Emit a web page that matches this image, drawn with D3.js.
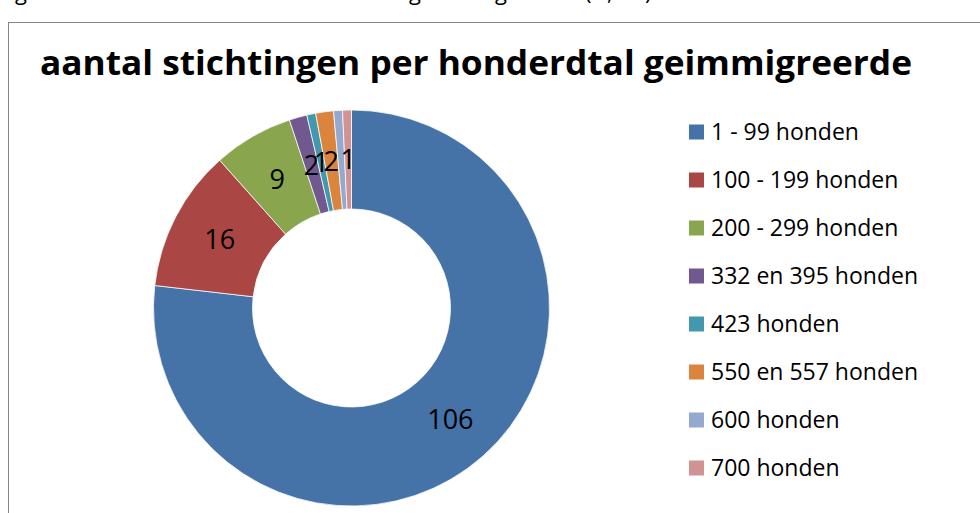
<!DOCTYPE html>
<html>
<head>
<meta charset="utf-8">
<script src="https://cdn.jsdelivr.net/npm/d3@7/dist/d3.min.js"></script>
<style>
  body { margin: 0; background: #fff; }
  svg { display: block; font-family: "Open Sans", "Noto Sans", sans-serif; }
</style>
</head>
<body>
<div class="display"></div>
<script>
var categories = ["1 - 99 honden", "100 - 199 honden", "200 - 299 honden", "332 en 395 honden",
                  "423 honden", "550 en 557 honden", "600 honden", "700 honden"];
var counts = [106, 16, 9, 2, 1, 2, 1, 1];
var labelShown = [true, true, true, true, true, true, false, true];
var colors = ["#4572a7", "#aa4643", "#89a54e", "#71588f", "#4198af", "#db843d", "#93a9cf", "#d19392"];
var titleText = "aantal stichtingen per honderdtal geimmigreerde";
// tails of the caption line above the chart, cut off by the screenshot
var cutGlyphs = ["g", "g", "g", "(", ",", ")"];
var cutGlyphX = [15, 409, 495, 585, 607, 645];

var width = 980, height = 513;
var cx = 351.5, cy = 308, outerR = 198, innerR = 99;

var svg = d3.select(".display")
  .append("svg")
  .attr("width", width)
  .attr("height", height);

svg.selectAll("text.cut")
  .data(cutGlyphs)
  .enter().append("text")
  .attr("class", "cut")
  .attr("x", function(d, i) { return cutGlyphX[i]; })
  .attr("y", 0)
  .attr("font-size", 22)
  .attr("fill", "#000")
  .text(function(d) { return d; });

// chart border (right and bottom fall outside the picture)
svg.append("rect")
  .attr("x", 8.5)
  .attr("y", 22.5)
  .attr("width", 1000)
  .attr("height", 600)
  .attr("fill", "none")
  .attr("stroke", "#868686")
  .attr("stroke-width", 1);

svg.append("text")
  .attr("x", 40)
  .attr("y", 75)
  .attr("font-size", 34)
  .attr("font-weight", "bold")
  .attr("fill", "#000")
  .attr("textLength", 872)
  .attr("lengthAdjust", "spacingAndGlyphs")
  .text(titleText);

var pie = d3.pie().sort(null).value(function(d) { return d; });
var arcs = pie(counts);
var arc = d3.arc().innerRadius(innerR).outerRadius(outerR);
var labelArc = d3.arc().innerRadius(148.5).outerRadius(148.5);

var g = svg.append("g").attr("transform", "translate(" + cx + "," + cy + ")");

g.selectAll("path")
  .data(arcs)
  .enter().append("path")
  .attr("d", arc)
  .attr("fill", function(d, i) { return colors[i]; })
  .attr("stroke", "#fff")
  .attr("stroke-width", 0.75);

g.selectAll("text.lbl")
  .data(arcs.filter(function(d, i) { return labelShown[i]; }))
  .enter().append("text")
  .attr("class", "lbl")
  .attr("transform", function(d) { return "translate(" + labelArc.centroid(d) + ")"; })
  .attr("text-anchor", "middle")
  .attr("dy", "0.36em")
  .attr("font-size", 27)
  .attr("fill", "#000")
  .text(function(d) { return d.value; });

var legend = svg.append("g");
var rowY = d3.scaleBand().domain(categories).range([108, 492]);

var rows = legend.selectAll("g")
  .data(categories)
  .enter().append("g")
  .attr("transform", function(d) { return "translate(689," + (rowY(d) + rowY.bandwidth() / 2) + ")"; });

rows.append("rect")
  .attr("x", 0)
  .attr("y", -7.5)
  .attr("width", 15)
  .attr("height", 15)
  .attr("fill", function(d, i) { return colors[i]; });

var legendText = rows.append("text")
  .attr("x", 22)
  .attr("dy", "0.36em")
  .attr("font-size", 21)
  .attr("fill", "#000")
  .text(function(d) { return d; });

// match the widest legend entry to the reference width
var maxW = d3.max(legendText.nodes(), function(n) { return n.getComputedTextLength(); });
legendText.attr("font-size", 21 * 207 / maxW);
</script>
</body>
</html>
